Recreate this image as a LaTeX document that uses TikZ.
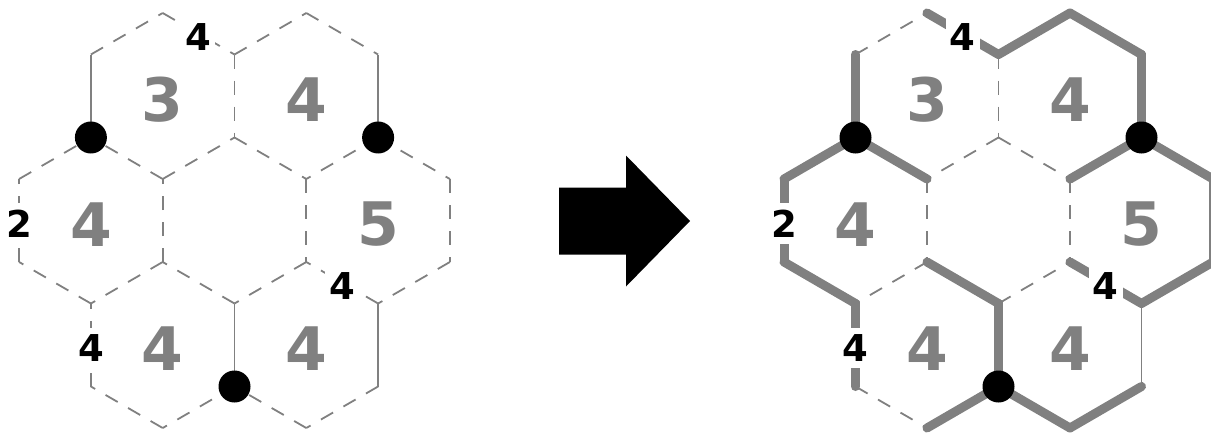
\documentclass[tikz,border=0pt]{standalone}
\usepackage{fontspec}
\setmainfont{DejaVu Sans}
\usetikzlibrary{calc}
\definecolor{hexgray}{RGB}{128,128,128}
\tikzset{
  thinedge/.style={draw=hexgray, line width=1.8pt},
  dashedge/.style={thinedge, dash pattern=on 14pt off 12pt},
  thickedge/.style={draw=hexgray, line width=9pt, line cap=round},
  bignum/.style={text=hexgray, font=\fontsize{60}{60}\selectfont\bfseries, inner sep=0pt, yshift=-4pt},
  edgenum/.style={fill=white, text=black, font=\fontsize{37}{37}\selectfont\bfseries, inner xsep=4pt, inner ysep=7pt, yshift=-3pt},
  vdot/.style={circle, fill=black, minimum size=32pt, inner sep=0pt},
  arrowshape/.style={fill=black},
}
\newcommand{\makegrid}[1]{%
  \foreach \gi in {-3,...,3}{\foreach \gj in {-5,...,5}{\coordinate (#1v\gi x\gj) at (\gi,\gj);}}}
\newcommand{\edgelist}[3]{%
  \foreach \xa/\ya/\xb/\yb in {#3}{\draw[#2] (#1v\xa x\ya) -- (#1v\xb x\yb);}}
\newcommand{\clues}[1]{%
  \node[bignum] (#1nA) at (#1v-1x-3) {3};
  \node[bignum] (#1nB) at (#1v1x-3) {4};
  \node[bignum] (#1nL) at (#1v-2x0) {4};
  \node[bignum] (#1nR) at (#1v2x0) {5};
  \node[bignum] (#1nD) at (#1v-1x3) {4};
  \node[bignum] (#1nE) at (#1v1x3) {4};
  \node[edgenum] (#1eT) at ($(#1v-1x-5)!0.5!(#1v0x-4)$) {4};
  \node[edgenum] (#1eL) at ($(#1v-3x-1)!0.5!(#1v-3x1)$) {2};
  \node[edgenum] (#1eD) at ($(#1v-2x2)!0.5!(#1v-2x4)$) {4};
  \node[edgenum] (#1eR) at ($(#1v1x1)!0.5!(#1v2x2)$) {4};
  \node[vdot] (#1d1) at (#1v-2x-2) {};
  \node[vdot] (#1d2) at (#1v2x-2) {};
  \node[vdot] (#1d3) at (#1v0x4) {};
}
\begin{document}
\begin{tikzpicture}
\useasboundingbox (0,0) rectangle (1211pt,-434pt);
% left puzzle
\begin{scope}[shift={(234.5pt,-220.5pt)}, x=71.8pt, y=-41.5pt]
  \makegrid{L}
  \edgelist{L}{dashedge}{0/-2/1/-1, 1/-1/1/1, 1/1/0/2, 0/2/-1/1, -1/1/-1/-1, -1/-1/0/-2,
    -1/-5/0/-4, 0/-4/0/-2, -1/-1/-2/-2, -2/-4/-1/-5, 1/-5/2/-4, 2/-2/1/-1, 0/-4/1/-5,
    -1/1/-2/2, -2/2/-3/1, -3/1/-3/-1, -3/-1/-2/-2, 2/-2/3/-1, 3/-1/3/1, 3/1/2/2, 2/2/1/1,
    0/4/-1/5, -1/5/-2/4, -2/4/-2/2, 2/4/1/5, 1/5/0/4}
  \edgelist{L}{thinedge}{-2/-2/-2/-4, 2/-4/2/-2, 0/2/0/4, 2/2/2/4}
  \clues{L}
\end{scope}
% arrow
\fill[arrowshape] (559pt,-187.5pt) -- (626pt,-187.5pt) -- (626pt,-155.5pt) -- (690pt,-221pt)
  -- (626pt,-286.5pt) -- (626pt,-254.5pt) -- (559pt,-254.5pt) -- cycle;
% right solution
\begin{scope}[shift={(998.5pt,-220.5pt)}, x=71.5pt, y=-41.5pt]
  \makegrid{R}
  \edgelist{R}{dashedge}{-2/-4/-1/-5, 0/-4/0/-2, 0/-2/-1/-1, 0/-2/1/-1, -1/-1/-1/1,
    -1/1/-2/2, 1/-1/1/1, 0/2/1/1, -2/4/-1/5}
  \edgelist{R}{thinedge}{2/2/2/4}
  \edgelist{R}{thickedge}{-1/-5/0/-4, -2/-4/-2/-2, -2/-2/-1/-1, 0/-4/1/-5, 1/-5/2/-4,
    2/-4/2/-2, 2/-2/1/-1, -2/-2/-3/-1, -3/-1/-3/1, -3/1/-2/2, -1/1/0/2, 2/-2/3/-1,
    3/-1/3/1, 3/1/2/2, 2/2/1/1, -2/2/-2/4, -1/5/0/4, 0/2/0/4, 2/4/1/5, 1/5/0/4}
  \clues{R}
\end{scope}
\end{tikzpicture}
\end{document}
